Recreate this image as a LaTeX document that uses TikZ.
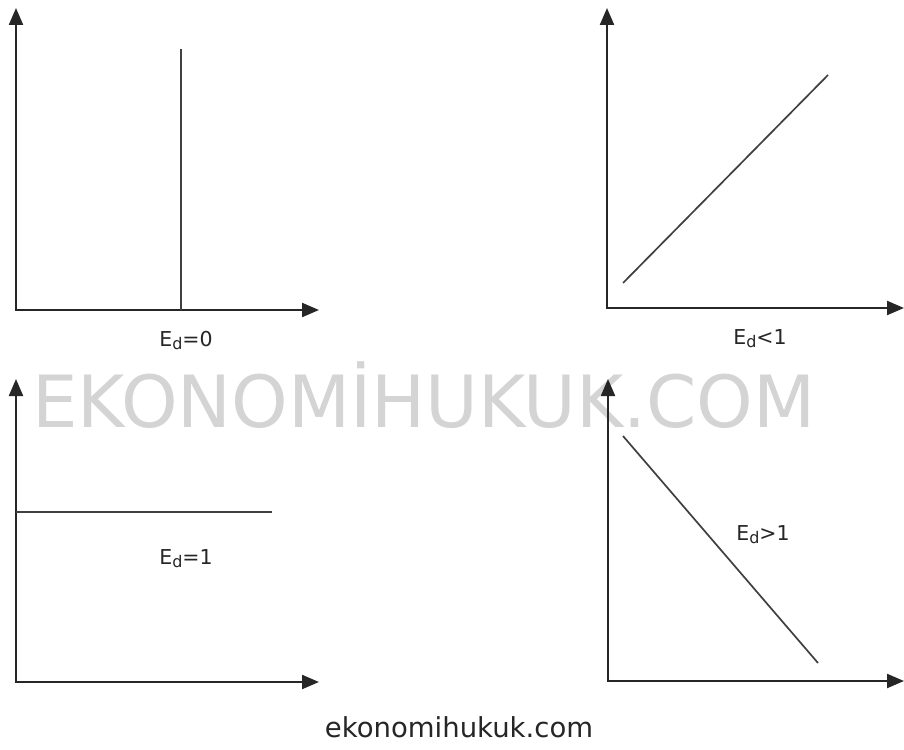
\documentclass[tikz,border=0pt]{standalone}
\usepackage{fontspec}
\setmainfont{DejaVu Sans}
\usetikzlibrary{arrows.meta}

\newcommand{\elab}[1]{E\raisebox{-3pt}{\fontsize{16}{16}\selectfont d}#1}

\begin{document}
\begin{tikzpicture}[x=1pt, y=-1pt,
    axis/.style={line width=2.2pt, draw=black!85, {Triangle[length=17pt,width=14pt]}-{Triangle[length=17pt,width=14pt]}},
    curve/.style={line width=1.7pt, draw=black!75},
    lab/.style={font=\fontsize{20.5}{20.5}\selectfont, text=black!85, inner sep=0pt, anchor=base}]
        \useasboundingbox[fill=white] (0,0) rectangle (904,749);

        % watermark
        \node[font=\fontsize{72}{72}\selectfont, text=black!17, inner sep=0pt, anchor=base] (mark) at (424,427) {EKONOMİHUKUK.COM};
        \node[font=\fontsize{27.5}{27.5}\selectfont, text=black!85, inner sep=0pt, anchor=base] (site) at (459,737) {ekonomihukuk.com};

        % E_d = 0
        \coordinate (o1) at (16,310);
        \coordinate (ya) at (16,8);
        \coordinate (xa) at (319,310);
        \coordinate (pa) at (181,49);
        \coordinate (qa) at (181,310);
        \draw[axis] (ya) -- (o1) -- (xa);
        \draw[curve] (pa) -- (qa);
        \node[lab] (la) at (186,346) {\elab{=0}};

        % E_d < 1
        \coordinate (o2) at (607,308);
        \coordinate (yb) at (607,8);
        \coordinate (xb) at (904,308);
        \coordinate (pb) at (623,283);
        \coordinate (qb) at (828,75);
        \draw[axis] (yb) -- (o2) -- (xb);
        \draw[curve] (pb) -- (qb);
        \node[lab] (lb) at (760,344) {\elab{<1}};

        % E_d = 1
        \coordinate (o3) at (16,682);
        \coordinate (yc) at (16,379);
        \coordinate (xc) at (319,682);
        \coordinate (pc) at (16,512);
        \coordinate (qc) at (272,512);
        \draw[axis] (yc) -- (o3) -- (xc);
        \draw[curve] (pc) -- (qc);
        \node[lab] (lc) at (186,564) {\elab{=1}};

        % E_d > 1
        \coordinate (o4) at (608,681);
        \coordinate (yd) at (608,379);
        \coordinate (xd) at (904,681);
        \coordinate (pd) at (623,436);
        \coordinate (qd) at (818,663);
        \draw[axis] (yd) -- (o4) -- (xd);
        \draw[curve] (pd) -- (qd);
        \node[lab] (ld) at (763,540) {\elab{>1}};
    \end{tikzpicture}
\end{document}
